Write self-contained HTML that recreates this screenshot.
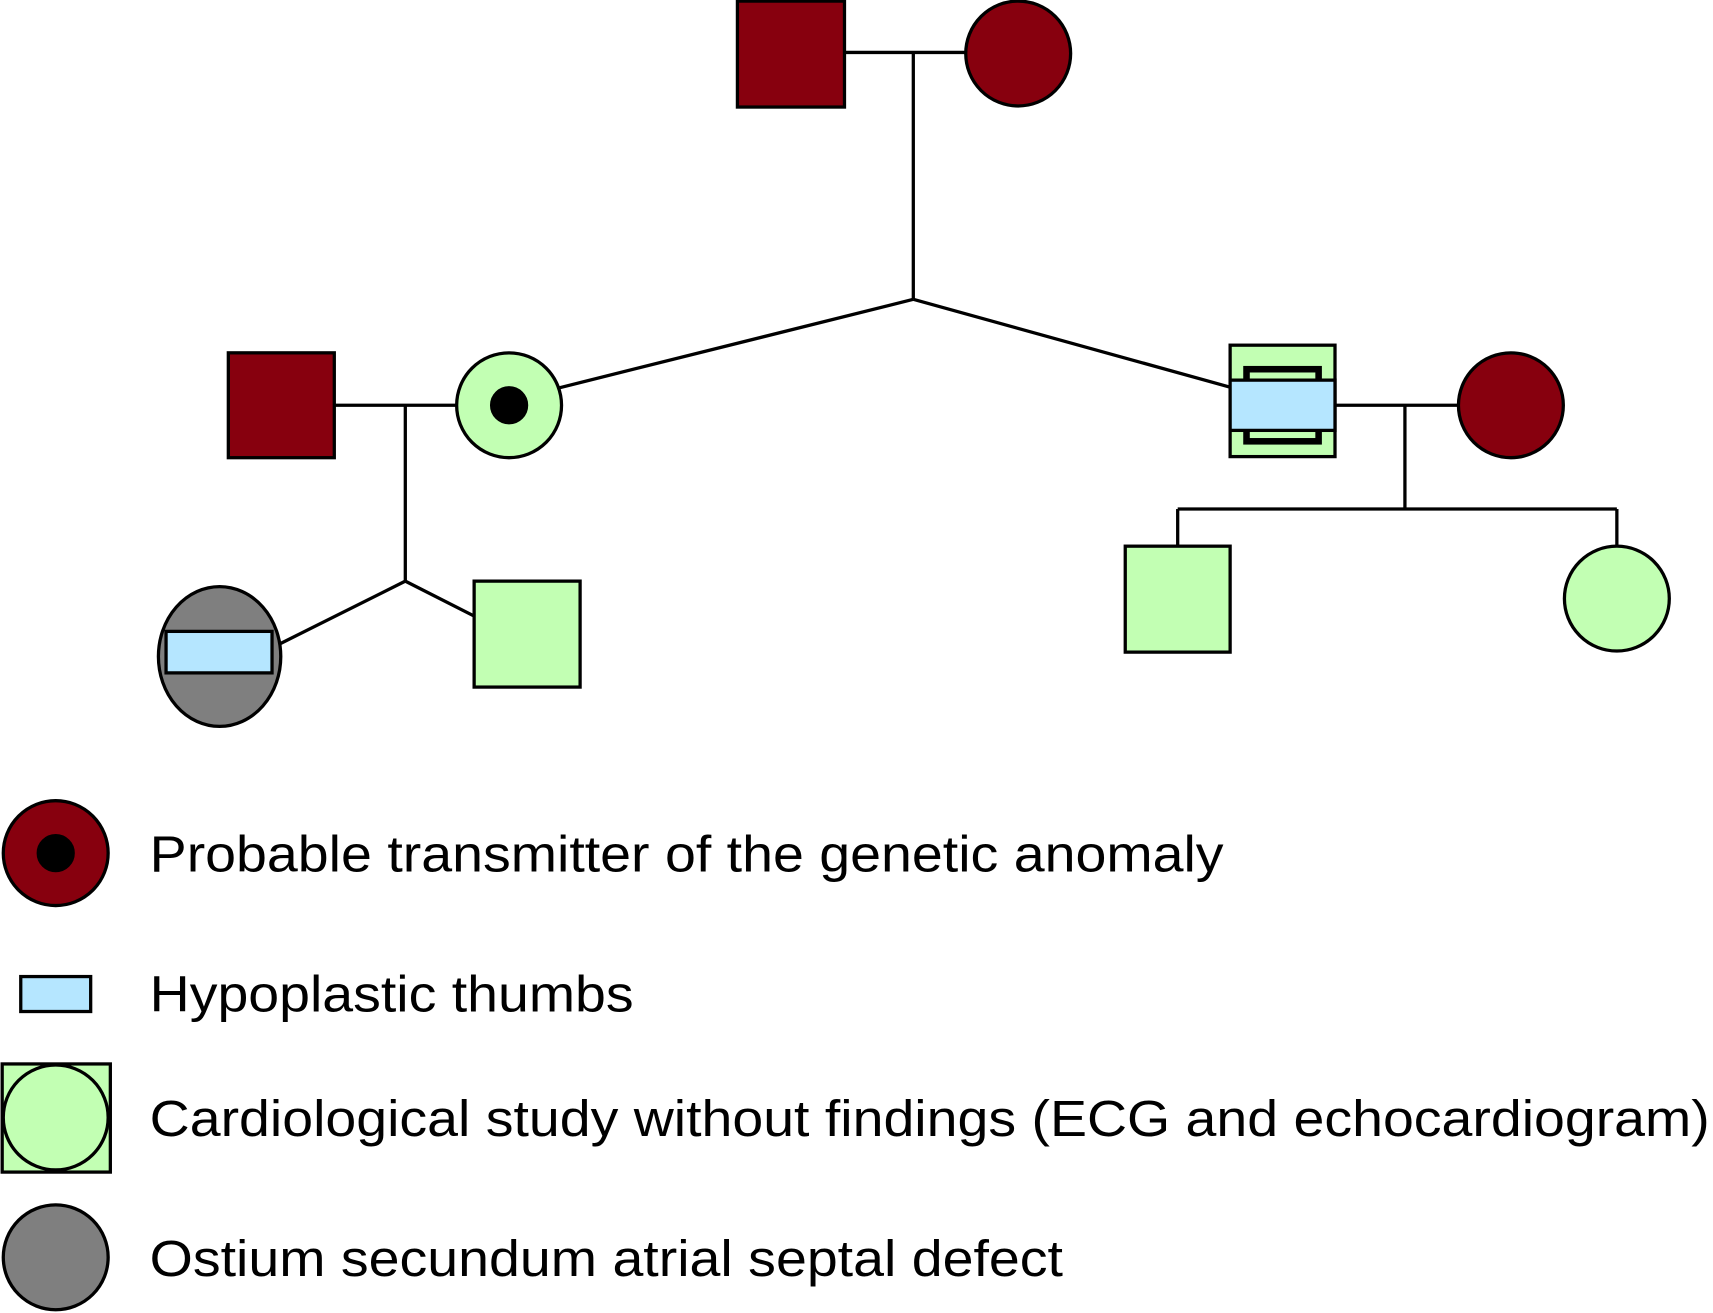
<!DOCTYPE html>
<html><head><style>html,body{margin:0;padding:0;background:#fff}svg{display:block}</style></head><body>
<svg width="1713" height="1313" viewBox="0 0 1568 1202" preserveAspectRatio="none" xmlns="http://www.w3.org/2000/svg">
<g stroke="#000" stroke-width="3" fill="none">
<line x1="773" y1="48" x2="884" y2="48"/>
<line x1="836" y1="48" x2="836" y2="274"/>
<line x1="836" y1="274" x2="512" y2="355"/>
<line x1="836" y1="274" x2="1128" y2="355"/>
<line x1="306" y1="371" x2="418" y2="371"/>
<line x1="371" y1="371" x2="371" y2="532"/>
<line x1="371" y1="532" x2="255" y2="590"/>
<line x1="371" y1="532" x2="434" y2="564"/>
<line x1="1222" y1="371" x2="1335" y2="371"/>
<line x1="1286" y1="371" x2="1286" y2="466"/>
<line x1="1078" y1="466" x2="1480" y2="466"/>
<line x1="1078" y1="466" x2="1078" y2="500"/>
<line x1="1480" y1="466" x2="1480" y2="500"/>
</g>
<g stroke="#000" stroke-width="3">
<rect x="675" y="1" width="98" height="97" fill="#87000e"/>
<circle cx="932" cy="49" r="48" fill="#87000e"/>
<rect x="209" y="323" width="97" height="96" fill="#87000e"/>
<circle cx="466" cy="371" r="48" fill="#c2ffb3"/>
<circle cx="466" cy="371" r="16" fill="#000"/>
<rect x="1126" y="316" width="96" height="102" fill="#c2ffb3"/>
<rect x="1141" y="338" width="66" height="66" fill="#c2ffb3" stroke-width="6"/>
<rect x="1126" y="348" width="96" height="46" fill="#b5e6ff"/>
<circle cx="1383" cy="371" r="48" fill="#87000e"/>
<ellipse cx="201" cy="601" rx="56" ry="64" fill="#7f7f7f"/>
<rect x="152" y="578" width="97" height="38" fill="#b5e6ff"/>
<rect x="434" y="532" width="97" height="97" fill="#c2ffb3"/>
<rect x="1030" y="500" width="96" height="97" fill="#c2ffb3"/>
<circle cx="1480" cy="548" r="48" fill="#c2ffb3"/>
<circle cx="51" cy="781" r="48" fill="#87000e"/>
<circle cx="51" cy="781" r="16" fill="#000"/>
<rect x="19" y="894" width="64" height="32" fill="#b5e6ff"/>
<rect x="2" y="974" width="99" height="99" fill="#c2ffb3"/>
<circle cx="51" cy="1023" r="48" fill="#c2ffb3"/>
<circle cx="51" cy="1151" r="48" fill="#7f7f7f"/>
</g>
<g font-family="Liberation Sans, sans-serif" font-size="47" fill="#000" lengthAdjust="spacingAndGlyphs">
<text x="137" y="798" textLength="983" lengthAdjust="spacingAndGlyphs">Probable transmitter of the genetic anomaly</text>
<text x="137" y="926" textLength="443" lengthAdjust="spacingAndGlyphs">Hypoplastic thumbs</text>
<text x="137" y="1040" textLength="1428" lengthAdjust="spacingAndGlyphs">Cardiological study without findings (ECG and echocardiogram)</text>
<text x="137" y="1168" textLength="836" lengthAdjust="spacingAndGlyphs">Ostium secundum atrial septal defect</text>
</g>
</svg>
</body></html>
